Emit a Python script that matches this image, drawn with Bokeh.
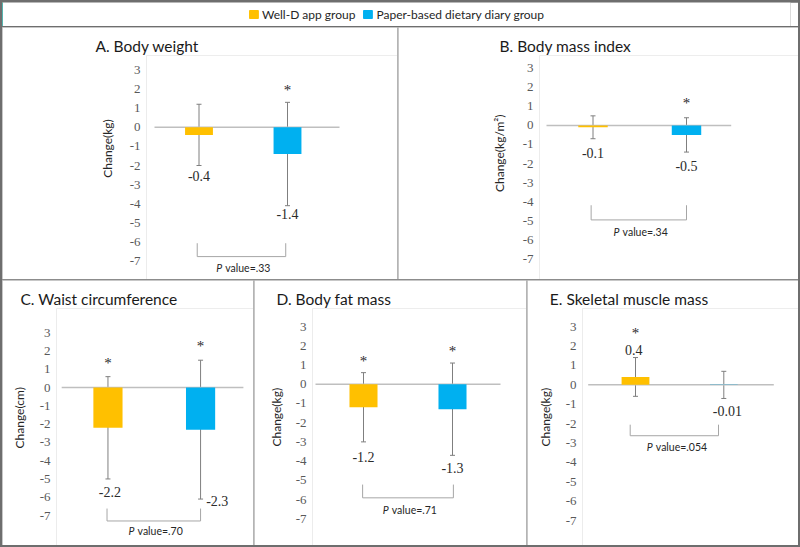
from bokeh.plotting import figure
from bokeh.models import (ColumnDataSource, Whisker, TeeHead, LabelSet, Title,
                          FixedTicker, Range1d, Legend, LegendItem)
from bokeh.core.properties import value
from bokeh.layouts import row, column
from bokeh.embed import file_html
from bokeh.resources import INLINE

# ---------------- data ----------------
groups = ["Well-D app group", "Paper-based dietary diary group"]
panel_titles = ["A. Body weight", "B. Body mass index", "C. Waist circumference",
                "D. Body fat mass", "E. Skeletal muscle mass"]
y_axis_labels = ["Change(kg)", "Change(kg/m\u00b2)", "Change(cm)", "Change(kg)", "Change(kg)"]
app_mean = [-0.4, -0.1, -2.2, -1.2, 0.4]
app_sd = [1.6, 0.6, 2.8, 1.8, 1.0]
paper_mean = [-1.4, -0.5, -2.3, -1.3, -0.01]
paper_sd = [2.7, 0.9, 3.8, 2.4, 0.7]
app_value_text = ["-0.4", "-0.1", "-2.2", "-1.2", "0.4"]
paper_value_text = ["-1.4", "-0.5", "-2.3", "-1.3", "-0.01"]
app_significant = [False, False, True, True, True]
paper_significant = [True, True, True, True, False]
p_values = [".33", ".34", ".70", ".71", ".054"]
y_ticks = [3, 2, 1, 0, -1, -2, -3, -4, -5, -6, -7]
y_tick_labels = ["3", "2", "1", "0", "-1", "-2", "-3", "-4", "-5", "-6", "-7"]

# ---------------- styles ----------------
COL_APP = "#FFC000"
COL_PAPER = "#00B0F0"
ERR_COL = "#7f7f7f"
ZERO_COL = "#bfbfbf"
BRACKET_COL = "#a6a6a6"
OUTER_COL = "#6e6e6e"
MID_COL = "#8c8c8c"
INNER_COL = "#b4b4b4"
SANS = "Lato"
SERIF = "Liberation Serif"
BAR_W = 0.315
TICK_STANDOFF = 6
TICK_LABEL_W = 11
AXLAB_H = 14.4
TITLE_H = 19
STAR_SHIFT_PX = 3
AXLAB_LEN = {"Change(kg)": 58.6, "Change(kg/m\u00b2)": 77.0, "Change(cm)": 62.5}

# ------------- layout (reference pixel measurements, data-unit annotation spots) -------------
LAYOUT = [
    dict(box=(2, 27, 397, 279), y3=69.3, y_7=260.7, xr=140, c1=198.5, c2=287.0,
         zero=(154, 339), axlab=(110, 148), title=(95, 45),
         lab_y=(-2.56, -4.51), lab_dx=(0, 0), star_y=(2.0, 2.09), br=(0.98, 1.98, -6.06, -6.76), p_y=-7.38),
    dict(box=(398, 27, 798, 279), y3=67.7, y_7=258.3, xr=532.7, c1=592.5, c2=686.0,
         zero=(546, 730.7), axlab=(501.7, 153), title=(499, 45),
         lab_y=(-1.43, -2.12), lab_dx=(0, 0), star_y=(1.3, 1.32), br=(0.98, 2.0, -4.19, -4.96), p_y=-5.57),
    dict(box=(2, 280, 253, 545), y3=332.3, y_7=515.0, xr=45.7, c1=104.5, c2=199.0,
         zero=(57.3, 242.7), axlab=(18.3, 416.7), title=(16, 298.3),
         lab_y=(-5.71, -6.22), lab_dx=(0.02, 0.18), star_y=(1.49, 2.46), br=(0.99, 2.0, -6.62, -7.3), p_y=-7.85),
    dict(box=(254, 280, 526, 545), y3=326.0, y_7=518.3, xr=305.7, c1=363.0, c2=452.0,
         zero=(315, 500), axlab=(279.3, 416.7), title=(276, 298.3),
         lab_y=(-3.78, -4.35), lab_dx=(0, 0), star_y=(1.37, 1.89), br=(0.99, 2.01, -5.22, -5.91), p_y=-6.55),
    dict(box=(527, 280, 798, 545), y3=326.0, y_7=520.0, xr=576.0, c1=635.0, c2=723.3,
         zero=(587.7, 773.3), axlab=(548.3, 416.7), title=(549.3, 298.3),
         lab_y=(1.79, -1.34), lab_dx=(-0.02, 0.04), star_y=(2.82, 1.0), br=(0.94, 1.94, -2.06, -2.63), p_y=-3.23),
]


def make_panel(i):
    L = LAYOUT[i]
    bx0, by0, bx1, by1 = L["box"]
    fw, fh = bx1 - bx0, by1 - by0
    ppu_y = (L["y_7"] - L["y3"]) / 10
    zero_fy = L["y3"] + 0.3 * (L["y_7"] - L["y3"]) - by0
    t_fx = L["title"][0] - bx0
    t_fy = L["title"][1] - by0
    top = int(round(t_fy + TITLE_H / 2))
    fx_left = int(round(L["xr"] - bx0 + TICK_STANDOFF))
    ppu_x = L["c2"] - L["c1"]
    c1_fx = L["c1"] - bx0
    x_start = 1 - (c1_fx - fx_left) / ppu_x
    x_end = x_start + (fw - fx_left) / ppu_x
    y_end = (zero_fy - top) / ppu_y
    y_start = -(fh - zero_fy) / ppu_y

    p = figure(width=fw, height=fh, x_range=Range1d(x_start, x_end), y_range=Range1d(y_start, y_end),
               output_backend="svg", toolbar_location=None, x_axis_location=None,
               min_border_left=fx_left, min_border_right=0, min_border_top=top,
               min_border_bottom=0)
    p.outline_line_color = None
    p.grid.visible = False
    p.background_fill_color = "white"
    p.border_fill_color = "white"

    # panel title (side panel, so not clipped by the frame)
    p.title.text = panel_titles[i]
    p.title.align = "left"
    p.title.offset = t_fx - fx_left
    p.title.vertical_align = "middle"
    p.title.standoff = 0
    p.title.text_font = SANS
    p.title.text_font_size = "15.5px"
    p.title.text_font_style = "normal"
    p.title.text_color = "#1a1a1a"

    ax = p.yaxis[0]
    ax.ticker = FixedTicker(ticks=y_ticks)
    ax.major_label_overrides = {t: s for t, s in zip(y_ticks, y_tick_labels)}
    ax.axis_line_color = None
    ax.major_tick_line_color = None
    ax.minor_tick_line_color = None
    ax.major_tick_out = 0
    ax.major_tick_in = 0
    ax.major_label_standoff = TICK_STANDOFF
    ax.major_label_text_font = SERIF
    ax.major_label_text_font_size = "13px"
    ax.major_label_text_color = "#595959"

    # y-axis caption as a left-side title so it can sit off the frame's centre
    cx = L["axlab"][0] - bx0
    cy = L["axlab"][1] - by0
    ax_w = TICK_STANDOFF + TICK_LABEL_W
    st = max(0.0, 2 * (fx_left - ax_w - cx) - 2 - AXLAB_H)
    ylen = AXLAB_LEN[y_axis_labels[i]]
    p.add_layout(Title(text=y_axis_labels[i], align="left", offset=fh - (cy + ylen / 2),
                       vertical_align="middle", standoff=int(round(st)), text_font=SANS,
                       text_font_size="12px", text_font_style="normal", text_color="#262626"),
                 "left")

    # zero line
    zl = 1 + (L["zero"][0] - L["c1"]) / (L["c2"] - L["c1"])
    zr = 1 + (L["zero"][1] - L["c1"]) / (L["c2"] - L["c1"])
    p.line(x=[zl, zr], y=[0, 0], line_color=ZERO_COL, line_width=1.5)

    means = [app_mean[i], paper_mean[i]]
    sds = [app_sd[i], paper_sd[i]]
    src = ColumnDataSource(dict(
        x=[1, 2], top=means, color=[COL_APP, COL_PAPER],
        upper=[m + s for m, s in zip(means, sds)],
        lower=[m - s for m, s in zip(means, sds)],
    ))
    p.vbar(x="x", top="top", bottom=0, width=BAR_W, fill_color="color", line_color=None, source=src)
    w = Whisker(base="x", upper="upper", lower="lower", source=src, dimension="height",
                line_color=ERR_COL, line_width=1,
                upper_head=TeeHead(size=5, line_color=ERR_COL, line_width=1),
                lower_head=TeeHead(size=5, line_color=ERR_COL, line_width=1))
    p.add_layout(w)

    # value labels
    vsrc = ColumnDataSource(dict(
        x=[1 + L["lab_dx"][0], 2 + L["lab_dx"][1]], y=list(L["lab_y"]),
        text=[app_value_text[i], paper_value_text[i]]))
    p.add_layout(LabelSet(x="x", y="y", text="text", source=vsrc, text_align="center",
                          text_baseline="middle", text_font=value(SERIF), text_font_size="14px",
                          text_color="#2b2b2b"))

    # significance stars
    sig = [app_significant[i], paper_significant[i]]
    sx_list = [k + 1 for k in range(2) if sig[k]]
    sy_list = [L["star_y"][k] - STAR_SHIFT_PX / ppu_y for k in range(2) if sig[k]]
    ssrc = ColumnDataSource(dict(x=sx_list, y=sy_list, text=["*"] * len(sx_list)))
    p.add_layout(LabelSet(x="x", y="y", text="text", source=ssrc, text_align="center",
                          text_baseline="middle", text_font=value(SERIF), text_font_size="15px",
                          text_color="#2b2b2b"))

    # comparison bracket and P value (italic "P" + upright rest, centred under the bracket)
    b0, b1, btop, bbot = L["br"]
    p.line(x=[b0, b0, b1, b1], y=[btop, bbot, bbot, btop], line_color=BRACKET_COL, line_width=1)
    rest = "value=" + p_values[i]
    pw, cw = 9.0, 4.6
    total = pw + cw * len(rest)
    xm = (b0 + b1) / 2
    psrc = ColumnDataSource(dict(x=[xm], y=[L["p_y"]], p=["P"], rest=[rest]))
    p.add_layout(LabelSet(x="x", y="y", text="p", source=psrc, x_offset=-total / 2,
                          text_align="left", text_baseline="middle", text_font=value(SANS),
                          text_font_size="10.5px", text_font_style="italic", text_color="#262626"))
    p.add_layout(LabelSet(x="x", y="y", text="rest", source=psrc, x_offset=-total / 2 + pw,
                          text_align="left", text_baseline="middle", text_font=value(SANS),
                          text_font_size="10.5px", text_color="#262626"))
    return p


panels = [make_panel(i) for i in range(5)]

# legend strip (legend swatches need one row of data; it lies outside the visible range)
lg = figure(width=796, height=24, output_backend="svg", toolbar_location=None,
            x_axis_location=None, y_axis_location=None, min_border=0, min_border_right=8,
            x_range=Range1d(0, 1), y_range=Range1d(0, 1))
lg.outline_line_color = None
lg.grid.visible = False
r_app = lg.vbar(x=[-5], top=[1], width=0.1, fill_color=COL_APP, line_color=COL_APP)
r_paper = lg.vbar(x=[-5], top=[1], width=0.1, fill_color=COL_PAPER, line_color=COL_PAPER)
legend = Legend(items=[LegendItem(label=groups[0], renderers=[r_app]),
                       LegendItem(label=groups[1], renderers=[r_paper])],
                orientation="horizontal", location="center", glyph_width=11, glyph_height=10,
                label_standoff=3, spacing=7, padding=0, margin=0, border_line_color=None,
                background_fill_alpha=0, label_text_font=SANS, label_text_font_size="12px",
                label_text_color="#262626", label_height=16)
lg.add_layout(legend, "center")

top_row = row(panels[0], panels[1], spacing=1, styles={"background-color": INNER_COL})
bottom_row = row(panels[2], panels[3], panels[4], spacing=1, styles={"background-color": INNER_COL})
body = column(top_row, bottom_row, spacing=1, styles={"background-color": MID_COL})
root = column(lg, body, spacing=1, styles={"background-color": OUTER_COL, "padding": "2px"})

open("out.html", "w").write(file_html(root, INLINE))
